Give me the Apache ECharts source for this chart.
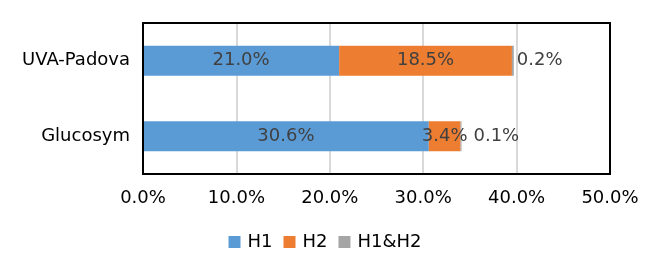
<!DOCTYPE html>
<html><head><meta charset="utf-8">
<script src="https://cdn.jsdelivr.net/npm/echarts@6/dist/echarts.min.js"></script>
<style>html,body{margin:0;padding:0;background:#fff}#c{width:650px;height:273px}</style>
</head><body><div id="c"></div>
<script>
const categories = ['Glucosym', 'UVA-Padova'];
const h1 = [30.6, 21.0];
const h2 = [3.4, 18.5];
const h1h2 = [0.1, 0.2];
const xTicks = [0, 10, 20, 30, 40, 50];

const font = 'DejaVu Sans';
const FS = 18;
const G = {left: 143, right: 40, top: 23, bottom: 99};
const chart = echarts.init(document.getElementById('c'), null, {renderer: 'canvas'});
const lbl = (pos) => ({show: true, position: pos, color: '#404040', fontSize: FS, fontFamily: font,
  formatter: p => p.value.toFixed(1) + '%'});
chart.setOption({
  animation: false,
  textStyle: {fontFamily: font},
  grid: Object.assign({show: false}, G),
  graphic: [{type: 'rect', z: 100, silent: true,
    shape: {x: G.left, y: G.top, width: 650 - G.left - G.right, height: 273 - G.top - G.bottom},
    style: {fill: 'none', stroke: '#000', lineWidth: 2}}],
  xAxis: {type: 'value', min: xTicks[0], max: xTicks[xTicks.length - 1], interval: 10,
    axisLine: {show: false}, axisTick: {show: false},
    splitLine: {show: true, lineStyle: {color: '#d9d9d9', width: 2}},
    axisLabel: {color: '#000', fontSize: FS, fontFamily: font, margin: 15, formatter: v => v.toFixed(1) + '%'}},
  yAxis: {type: 'category', data: categories, axisLine: {show: false}, axisTick: {show: false},
    axisLabel: {color: '#000', fontSize: FS, fontFamily: font, margin: 13}},
  legend: {bottom: 17, left: 'center', itemWidth: 12, itemHeight: 12, itemGap: 11, icon: 'rect',
    textStyle: {fontSize: FS, color: '#000', fontFamily: font, padding: [0, 0, 0, 2]},
    data: ['H1', 'H2', 'H1&H2']},
  series: [
    {name: 'H1', type: 'bar', stack: 's', data: h1, barWidth: 30, itemStyle: {color: '#5b9bd5'}, label: lbl('inside')},
    {name: 'H2', type: 'bar', stack: 's', data: h2, barWidth: 30, itemStyle: {color: '#ed7d31'}, label: lbl('inside')},
    {name: 'H1&H2', type: 'bar', stack: 's', barWidth: 30, itemStyle: {color: '#a5a5a5'}, label: Object.assign(lbl('right'), {distance: 3}),
      data: h1h2.map((v, i) => ({value: v, label: {distance: i === 0 ? 12 : 3}}))}
  ]
});
</script></body></html>
